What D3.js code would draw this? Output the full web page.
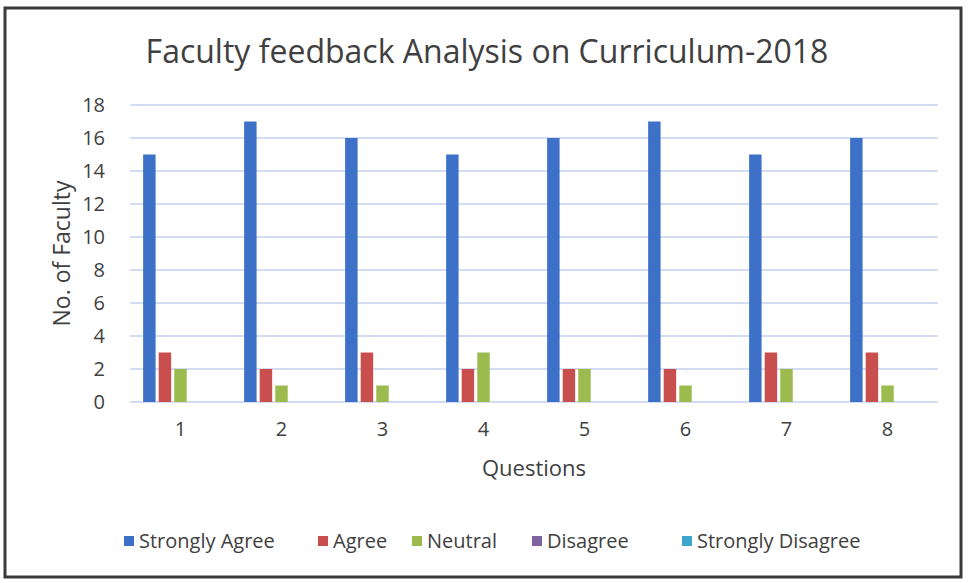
<!DOCTYPE html>
<html>
<head>
<meta charset="utf-8">
<script src="https://cdn.jsdelivr.net/npm/d3@7"></script>
<style>
  body { margin: 0; background: #fff; }
  svg text { font-family: "Open Sans", "Noto Sans", sans-serif; fill: #404040; }
</style>
</head>
<body>
<div id="vis"></div>
<script>
var questions = ['1', '2', '3', '4', '5', '6', '7', '8'];
var seriesNames = ['Strongly Agree', 'Agree', 'Neutral', 'Disagree', 'Strongly Disagree'];
var stronglyAgree = [15, 17, 16, 15, 16, 17, 15, 16];
var agree = [3, 2, 3, 2, 2, 2, 3, 3];
var neutral = [2, 1, 1, 3, 2, 1, 2, 1];
var disagree = [0, 0, 0, 0, 0, 0, 0, 0];
var stronglyDisagree = [0, 0, 0, 0, 0, 0, 0, 0];
var yTicks = [0, 2, 4, 6, 8, 10, 12, 14, 16, 18];

var colors = ['#3d71c8', '#c94f4e', '#9bbb4f', '#8064a2', '#3ea5cc'];

var width = 968;
var height = 583;
var plot = { left: 130, right: 938, top: 105, bottom: 402 };

var allSeries = [stronglyAgree, agree, neutral, disagree, stronglyDisagree];

var svg = d3.select('#vis').append('svg')
  .attr('width', width)
  .attr('height', height);

// frame of the chart
svg.append('rect')
  .attr('x', 5).attr('y', 8)
  .attr('width', 956).attr('height', 569)
  .attr('fill', '#fff')
  .attr('stroke', '#3a3a3a')
  .attr('stroke-width', 3);

var x0 = d3.scaleBand()
  .domain(questions)
  .range([plot.left, plot.right])
  .paddingInner(0.26)
  .paddingOuter(0.13);

var x1 = d3.scaleBand()
  .domain(seriesNames)
  .range([0, x0.bandwidth()])
  .paddingInner(0.2);

var y = d3.scaleLinear()
  .domain([0, 18])
  .range([plot.bottom, plot.top]);

// gridlines
svg.append('g')
  .selectAll('line')
  .data(yTicks)
  .enter().append('line')
  .attr('x1', plot.left)
  .attr('x2', plot.right)
  .attr('y1', function(d) { return y(d); })
  .attr('y2', function(d) { return y(d); })
  .attr('stroke', '#c5d1ef')
  .attr('stroke-width', 1.3);

// y axis labels
var yAxis = d3.axisLeft(y).tickValues(yTicks).tickSize(0).tickPadding(0);
var gy = svg.append('g')
  .attr('transform', 'translate(' + (plot.left - 25) + ',0)')
  .call(yAxis);
gy.select('.domain').remove();
gy.selectAll('text')
  .attr('font-size', 20)
  .attr('font-family', null)
  .attr('dy', '0.34em')
  .style('fill', '#404040');

// x axis labels
var xAxis = d3.axisBottom(x0).tickSize(0).tickPadding(0);
var gx = svg.append('g')
  .attr('transform', 'translate(0,' + (plot.bottom + 20) + ')')
  .call(xAxis);
gx.select('.domain').remove();
gx.selectAll('text')
  .attr('font-size', 20)
  .attr('dy', '0.71em')
  .style('fill', '#404040');
gy.attr('font-family', null);
gx.attr('font-family', null);

// bars
var groups = svg.append('g')
  .selectAll('g')
  .data(questions)
  .enter().append('g')
  .attr('transform', function(d) { return 'translate(' + x0(d) + ',0)'; });

groups.selectAll('rect')
  .data(function(q, i) {
    return seriesNames.map(function(s, j) {
      return { series: s, value: allSeries[j][i], color: colors[j] };
    });
  })
  .enter().append('rect')
  .attr('x', function(d) { return x1(d.series); })
  .attr('width', x1.bandwidth())
  .attr('y', function(d) { return y(d.value); })
  .attr('height', function(d) { return y(0) - y(d.value); })
  .attr('fill', function(d) { return d.color; });

// title
svg.append('text')
  .attr('x', 487)
  .attr('y', 63)
  .attr('text-anchor', 'middle')
  .attr('font-size', 32)
  .text('Faculty feedback Analysis on Curriculum-2018');

// axis titles
svg.append('text')
  .attr('transform', 'translate(70,' + ((plot.top + plot.bottom) / 2) + ') rotate(-90)')
  .attr('text-anchor', 'middle')
  .attr('font-size', 23)
  .text('No. of Faculty');

svg.append('text')
  .attr('x', 534)
  .attr('y', 476)
  .attr('text-anchor', 'middle')
  .attr('font-size', 22)
  .text('Questions');

// legend
var legendX = [124, 318, 412, 532, 682];
var legend = svg.append('g')
  .selectAll('g')
  .data(seriesNames)
  .enter().append('g')
  .attr('transform', function(d, i) { return 'translate(' + legendX[i] + ',541)'; });

legend.append('rect')
  .attr('x', 0).attr('y', -5)
  .attr('width', 10).attr('height', 10)
  .attr('fill', function(d, i) { return colors[i]; });

legend.append('text')
  .attr('x', 15)
  .attr('y', 0)
  .attr('dy', '0.35em')
  .attr('font-size', 20)
  .text(function(d) { return d; });
</script>
</body>
</html>
